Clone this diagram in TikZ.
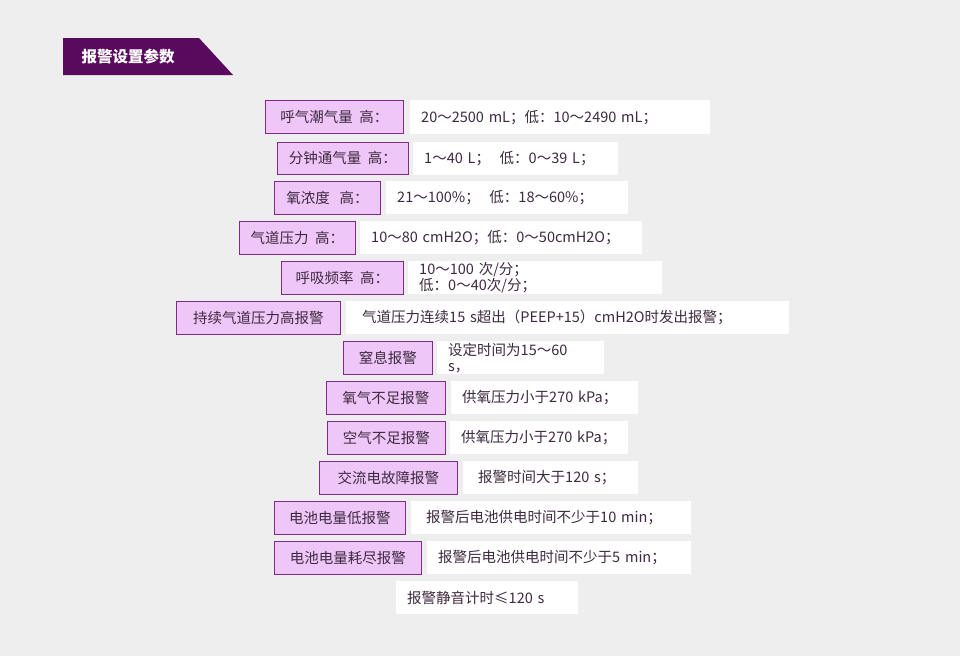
\documentclass[tikz,border=0pt]{standalone}
\usepackage{fontspec}
\setmainfont{Noto Sans CJK SC}
\definecolor{bg}{HTML}{EEEEEE}
\definecolor{ban}{HTML}{5A0A5C}
\definecolor{lf}{HTML}{EFC6F8}
\definecolor{lb}{HTML}{7E2A86}
\definecolor{tx}{HTML}{3E2A40}
\tikzset{
 lbl/.style={draw=lb,line width=0.9pt,fill=lf,text=tx,inner sep=0pt,font=\fontsize{14.5}{16}\selectfont},
 val/.style={fill=white,text=tx,inner ysep=0pt,inner xsep=11pt,align=left,font=\fontsize{14.5}{16}\selectfont},
}
\newcommand{\lbox}[6]{\node[lbl,minimum width=#3-#2,minimum height=#5-#4,anchor=north west] (#1) at (#2,#4) {#6};}
\newcommand{\vbx}[6]{\node[val,text width=#3-#2-22,minimum height=#5-#4,anchor=north west] (#1) at (#2,#4) {#6};}
\begin{document}
\begin{tikzpicture}[x=1pt,y=-1pt]
\fill[bg] (0,0) rectangle (960,656);
\useasboundingbox (0,0) rectangle (960,656);
\fill[ban] (63,38) -- (199,38) -- (233,75) -- (63,75) -- cycle;
\node[text=white,font=\fontsize{15.5}{17}\selectfont\bfseries,anchor=west] (title) at (78,56.5) {报警设置参数};
\lbox{l1}{265}{403}{100}{133}{呼气潮气量\ \ 高：}
\vbx{v1}{410}{710}{100}{134}{20～2500 mL；低：10～2490 mL；}
\lbox{l2}{277}{408}{142}{174}{分钟通气量\ \ 高：}
\vbx{v2}{413}{618}{142}{175}{1～40 L；\ \ 低：0～39 L；}
\lbox{l3}{274}{380}{181}{214}{氧浓度\ \ \ 高：}
\vbx{v3}{386}{628}{181}{214}{21～100\%；\ \ 低：18～60\%；}
\lbox{l4}{239}{355}{221}{254}{气道压力\ \ 高：}
\vbx{v4}{360}{642}{221}{254}{10～80 cmH2O；低：0～50cmH2O；}
\lbox{l5}{281}{403}{261}{294}{呼吸频率\ \ 高：}
\vbx{v5}{408}{662}{261}{294}{10～100 次/分；\ \ 低：0～40次/分；}
\lbox{l6}{176}{340}{301}{334}{持续气道压力高报警}
\vbx{v6}{346}{789}{301}{334}{\hspace*{5pt}气道压力连续15 s超出（PEEP+15）cmH2O时发出报警；}
\lbox{l7}{343}{432}{341}{374}{窒息报警}
\vbx{v7}{437}{604}{341}{374}{设定时间为15～60 s，}
\lbox{l8}{326}{445}{381}{414}{氧气不足报警}
\vbx{v8}{451}{638}{381}{414}{供氧压力小于270 kPa；}
\lbox{l9}{327}{445}{421}{454}{空气不足报警}
\vbx{v9}{450}{628}{421}{454}{供氧压力小于270 kPa；}
\lbox{l10}{319}{457}{461}{494}{交流电故障报警}
\vbx{v10}{463}{638}{461}{494}{\hspace*{4pt}报警时间大于120 s；}
\lbox{l11}{274}{405}{501}{534}{电池电量低报警}
\vbx{v11}{411}{691}{501}{534}{\hspace*{4pt}报警后电池供电时间不少于10 min；}
\lbox{l12}{274}{421}{541}{574}{电池电量耗尽报警}
\vbx{v12}{427}{691}{541}{574}{报警后电池供电时间不少于5 min；}
\vbx{v13}{396}{578}{581}{614}{报警静音计时≤120 s}
\end{tikzpicture}
\end{document}
